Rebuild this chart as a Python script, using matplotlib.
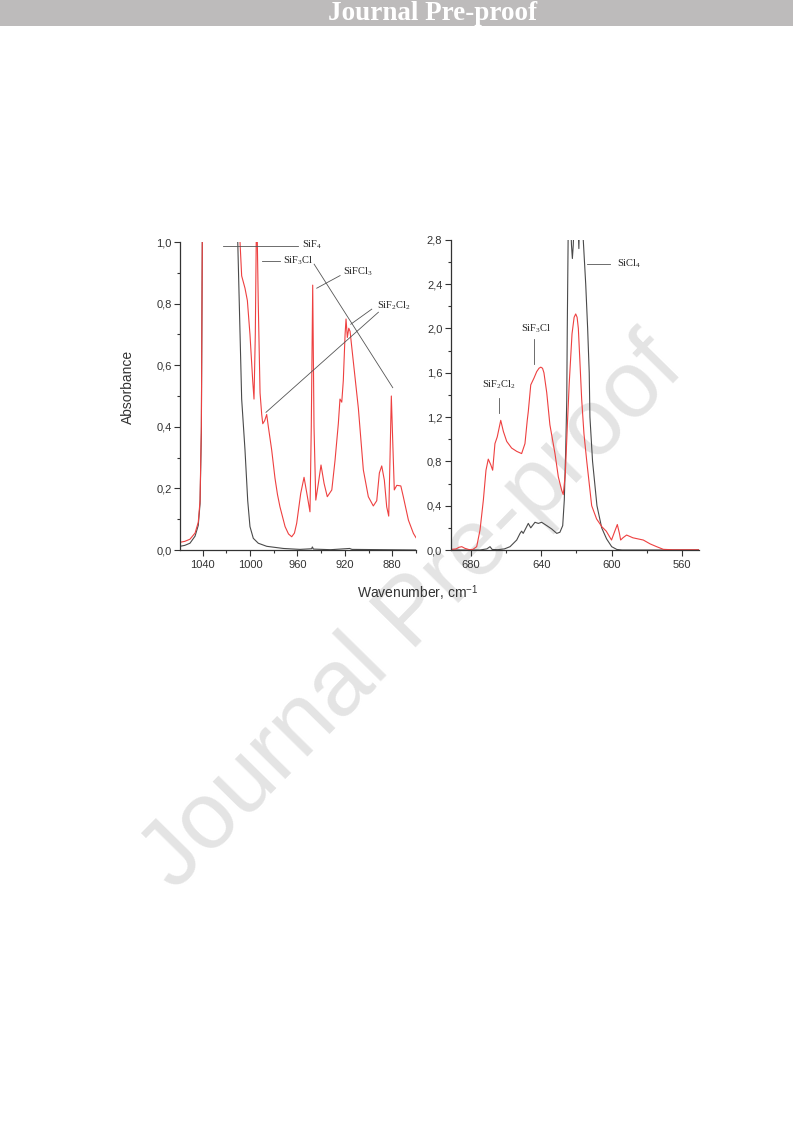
import matplotlib
matplotlib.use("Agg")
import matplotlib.pyplot as plt
from matplotlib.patches import Rectangle
from matplotlib.ticker import MultipleLocator, FuncFormatter

plt.rcParams['font.family'] = ['Liberation Sans', 'DejaVu Sans']
plt.rcParams['mathtext.fontset'] = 'custom'
plt.rcParams['mathtext.rm'] = 'Liberation Serif'
plt.rcParams['mathtext.it'] = 'Liberation Serif:italic'
plt.rcParams['mathtext.bf'] = 'Liberation Serif:bold'
plt.rcParams['mathtext.sf'] = 'Liberation Sans'

# ---------------- data ----------------
# Left panel (1060-860 cm-1)
left_wn_red = [1059, 1055, 1050.6, 1046.3, 1043.6, 1042.1, 1041.0, 1040.2, 1039.6, 1010,
               1008.4, 1007.0, 1004.2, 1002.2, 1000.0, 997.7, 996.6, 995.5, 994.6, 994.0,
               993.0, 991.5, 990.1, 989.2, 987.6, 985.9, 984.5, 981.7, 978.9, 976.8,
               974.7, 970.4, 967.5, 964.8, 962.5, 960.6, 957.2, 954.4, 952.1, 949.4,
               948.3, 947.1, 946.0, 944.5, 942.3, 940.1, 937.5, 934.8, 931.0, 928.3,
               925.5, 924.1, 922.6, 921.3, 919.8, 919.0, 917.9, 916.7, 915.6, 912.8,
               908.6, 906.5, 904.4, 900.2, 896.0, 893.1, 890.9, 888.9, 886.7, 884.7,
               883.0, 881.9, 880.8, 879.6, 878.3, 876.2, 872.8, 870.7, 866.4, 862.2,
               860]
left_abs_red = [0.025, 0.028, 0.035, 0.055, 0.09, 0.16, 0.40, 1.0, 1.2, 1.2,
                1.0, 0.89, 0.85, 0.81, 0.70, 0.55, 0.49, 0.70, 1.05, 1.05,
                0.80, 0.51, 0.44, 0.41, 0.42, 0.44, 0.40, 0.325, 0.233, 0.18,
                0.14, 0.076, 0.052, 0.043, 0.055, 0.087, 0.184, 0.236, 0.185, 0.124,
                0.40, 0.86, 0.40, 0.162, 0.217, 0.276, 0.216, 0.173, 0.195, 0.29,
                0.41, 0.49, 0.48, 0.55, 0.70, 0.75, 0.69, 0.72, 0.71, 0.61,
                0.46, 0.36, 0.26, 0.173, 0.143, 0.16, 0.25, 0.273, 0.227, 0.14,
                0.11, 0.30, 0.50, 0.35, 0.195, 0.21, 0.208, 0.173, 0.097, 0.054,
                0.04]

left_wn_black = [1059, 1055, 1050.6, 1046.3, 1043.6, 1042.1, 1041.0, 1040.2, 1039.6, 1011,
                 1010.3, 1007.0, 1004.2, 1001.9, 1000.0, 997.2, 993.0, 985.9, 971.9, 957.8,
                 948.0, 947.4, 946.5, 932.0, 916.0, 914.0, 860]
left_abs_black = [0.012, 0.015, 0.022, 0.045, 0.08, 0.15, 0.38, 1.0, 1.2, 1.2,
                  1.0, 0.49, 0.325, 0.16, 0.076, 0.038, 0.022, 0.012, 0.005, 0.002,
                  0.004, 0.01, 0.003, 0.001, 0.005, 0.002, 0.0]

# Right panel (692-550 cm-1)
right_wn_red = [691.6, 688.5, 686.8, 685.3, 683.5, 681.0, 679.0, 676.8, 674.9, 673.0,
                671.5, 670.2, 668.8, 667.7, 666.4, 665.1, 663.1, 661.6, 659.7, 656.9,
                654.0, 651.2, 649.3, 648.0, 647.4, 646.0, 644.2, 642.6, 641.3, 640.3,
                639.3, 638.5, 636.9, 635.1, 632.2, 630.3, 628.4, 627.5, 626.3, 625.2,
                624.1, 622.5, 621.3, 620.4, 619.6, 618.9, 618.0, 617.0, 615.7, 614.1,
                611.3, 608.5, 605.5, 603.0, 600.0, 598.6, 596.7, 595.5, 594.8, 593.5,
                591.4, 587.8, 581.9, 578.0, 574.3, 570.5, 565.0, 550.0]
right_abs_red = [0.005, 0.01, 0.025, 0.03, 0.015, 0.003, 0.005, 0.03, 0.18, 0.45,
                 0.72, 0.82, 0.77, 0.72, 0.96, 1.02, 1.17, 1.07, 0.98, 0.92,
                 0.89, 0.87, 0.96, 1.17, 1.25, 1.49, 1.55, 1.61, 1.64, 1.65,
                 1.64, 1.60, 1.42, 1.13, 0.87, 0.66, 0.54, 0.50, 0.69, 1.11,
                 1.50, 1.95, 2.10, 2.13, 2.10, 2.00, 1.70, 1.36, 1.05, 0.80,
                 0.40, 0.28, 0.21, 0.17, 0.09, 0.15, 0.23, 0.15, 0.09, 0.11,
                 0.135, 0.11, 0.09, 0.055, 0.03, 0.006, 0.002, 0.002]

right_wn_black = [691.6, 675.0, 671.0, 669.2, 668.0, 664.7, 661.0, 657.8, 654.0, 652.1,
                  651.2, 650.3, 647.4, 646.0, 643.6, 641.7, 639.8, 636.9, 634.1, 631.2,
                  629.4, 627.8, 626.9, 626.1, 625.5, 625.2, 624.9, 624.6, 623.4, 622.8,
                  622.3, 621.8, 621.2, 619.2, 618.6, 618.2, 616.5, 616.1, 614.7, 613.6,
                  612.7, 612.3, 610.8, 608.3, 605.6, 602.8, 599.9, 597.0, 594.0, 550.0]
right_abs_black = [0.0, 0.0, 0.01, 0.03, 0.005, 0.003, 0.01, 0.03, 0.09, 0.15,
                   0.17, 0.15, 0.24, 0.20, 0.25, 0.24, 0.25, 0.22, 0.19, 0.15,
                   0.16, 0.22, 0.45, 0.9, 1.35, 2.0, 2.5, 3.0, 3.0, 2.75,
                   2.63, 2.75, 3.0, 3.0, 2.72, 3.0, 3.0, 2.8, 2.4, 2.0,
                   1.6, 1.2, 0.8, 0.4, 0.2, 0.1, 0.03, 0.005, 0.0, 0.0]

left_xticks = [1040, 1000, 960, 920, 880]
right_xticks = [680, 640, 600, 560]

# ---------------- figure ----------------
W, H = 793, 1121
fig = plt.figure(figsize=(W / 100, H / 100), dpi=100)

def fx(px):
    return px / W

def fy(py):
    return 1 - py / H

# header bar
fig.patches.append(Rectangle((0, fy(26)), 1, 26 / H, transform=fig.transFigure,
                             facecolor='#bdbbbb', edgecolor='none', zorder=-5))
fig.text(fx(433), fy(20), 'Journal Pre-proof', ha='center', va='baseline',
         fontsize=19.5, fontweight='bold', family='Liberation Serif', color='white')

# watermark
fig.text(fx(413), fy(614), 'Journal Pre-proof', ha='center', va='center',
         rotation=45.5, rotation_mode='anchor', fontsize=68,
         family='Liberation Sans', color='#e4e4e4', zorder=-2)

RED = '#ee4040'
BLK = '#4a4a4a'
AXC = '#333333'
LINEC = '#555555'

def style(ax):
    for s in ['top', 'right']:
        ax.spines[s].set_visible(False)
    for s in ['left', 'bottom']:
        ax.spines[s].set_color(AXC)
        ax.spines[s].set_linewidth(0.9)
    ax.set_facecolor('none')
    ax.tick_params(which='both', direction='out', colors=AXC, labelsize=8,
                   width=0.8)
    ax.tick_params(which='major', length=4)
    ax.tick_params(which='minor', length=2.5)
    ax.tick_params(axis='x', pad=3)
    ax.tick_params(axis='y', pad=2)
    ax.yaxis.set_major_formatter(FuncFormatter(lambda v, p: f'{v:.1f}'.replace('.', ',')))

# left axes
axL = fig.add_axes([fx(180), fy(550), 236 / W, 308 / H])
axL.plot(left_wn_black, left_abs_black, color=BLK, lw=0.8)
axL.plot(left_wn_red, left_abs_red, color=RED, lw=0.8)
axL.set_xlim(1059, 860)
axL.set_ylim(0, 1.0)
axL.set_xticks(left_xticks)
axL.xaxis.set_minor_locator(MultipleLocator(20))
axL.yaxis.set_major_locator(MultipleLocator(0.2))
axL.yaxis.set_minor_locator(MultipleLocator(0.1))
style(axL)

# right axes
axR = fig.add_axes([fx(450.7), fy(550), 248.6 / W, 310.3 / H])
axR.plot(right_wn_black, right_abs_black, color=BLK, lw=0.8)
axR.plot(right_wn_red, right_abs_red, color=RED, lw=0.8)
axR.set_xlim(691.6, 550)
axR.set_ylim(0, 2.8)
axR.set_xticks(right_xticks)
axR.xaxis.set_minor_locator(MultipleLocator(20))
axR.yaxis.set_major_locator(MultipleLocator(0.4))
axR.yaxis.set_minor_locator(MultipleLocator(0.2))
style(axR)

# axis labels
fig.text(fx(128), fy(387), 'Absorbance', rotation=90, ha='center', va='center',
         fontsize=10, color=AXC)
fig.text(fx(418), fy(593), r'Wavenumber, cm$^{\mathsf{-1}}$', ha='center', va='center',
         fontsize=10, color=AXC)

# annotations
def seg(ax, xs, ys):
    ax.plot(xs, ys, color=LINEC, lw=0.6, clip_on=False)

def lab(ax, x, y, s, ha='left'):
    ax.text(x, y, s, ha=ha, va='center', fontsize=7.5, color='#222222')

seg(axL, [1022.5, 959.2], [0.986, 0.986])
lab(axL, 956.4, 0.99, r'$\mathrm{SiF_4}$')
seg(axL, [990.1, 974.7], [0.938, 0.938])
lab(axL, 971.9, 0.94, r'$\mathrm{SiF_3Cl}$')
seg(axL, [945.9, 879.6], [0.928, 0.527])
seg(axL, [943.7, 924.0], [0.850, 0.891])
lab(axL, 921.3, 0.904, r'$\mathrm{SiFCl_3}$')
lab(axL, 893.1, 0.792, r'$\mathrm{SiF_2Cl_2}$')
seg(axL, [897.3, 915.0], [0.782, 0.733])
seg(axL, [891.7, 986.5], [0.772, 0.447])

seg(axR, [614.2, 600.9], [2.58, 2.58])
lab(axR, 597.1, 2.58, r'$\mathrm{SiCl_4}$')
lab(axR, 643.0, 2.0, r'$\mathrm{SiF_3Cl}$', ha='center')
seg(axR, [644.0, 644.0], [1.9, 1.68])
lab(axR, 664.1, 1.49, r'$\mathrm{SiF_2Cl_2}$', ha='center')
seg(axR, [663.9, 663.9], [1.37, 1.235])

fig.savefig('out.png', dpi=100)
